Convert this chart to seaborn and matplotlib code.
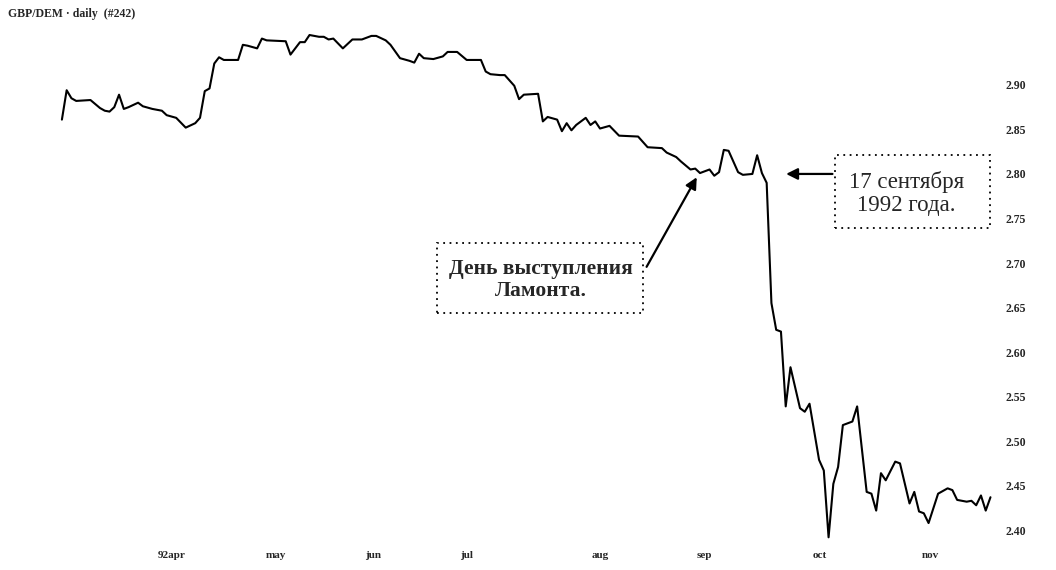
import matplotlib
matplotlib.use("Agg")
import matplotlib.pyplot as plt
from matplotlib.patches import Rectangle
import seaborn as sns
import pandas as pd

# trading day index (0 = early March 1992) and GBP/DEM close
day = [0, 1, 2, 3, 6, 8, 9, 10, 11, 12, 13, 14, 16, 17, 19, 21, 22, 24, 26, 28,
       29, 30, 31, 32, 33, 34, 37, 38, 39, 41, 42, 43, 47, 48, 50, 51, 52, 54, 55, 56,
       57, 59, 61, 63, 65, 66, 68, 69, 71, 73, 74, 75, 76, 78, 80, 81, 83, 85, 88, 89,
       90, 92, 93, 95, 96, 97, 100, 101, 102, 104, 105, 106, 107, 108, 110, 111, 112, 113, 115, 117,
       121, 123, 126, 127, 129, 130, 132, 133, 134, 136, 137, 138, 139, 140, 142, 143, 145, 146, 147, 148,
       149, 150, 151, 152, 153, 155, 156, 157, 159, 160, 161, 162, 163, 164, 166, 167, 169, 170, 171, 172,
       173, 175, 176, 178, 179, 180, 181, 182, 184, 186, 187, 188, 190, 191, 192, 193, 194, 195]
rate = [2.861, 2.894, 2.885, 2.882, 2.883, 2.874, 2.871, 2.870, 2.875, 2.889, 2.873, 2.875, 2.880, 2.876, 2.873, 2.871, 2.866, 2.863, 2.852, 2.857,
        2.863, 2.893, 2.896, 2.924, 2.931, 2.928, 2.928, 2.945, 2.944, 2.941, 2.952, 2.950, 2.949, 2.934, 2.948, 2.948, 2.956, 2.954, 2.954, 2.951,
        2.952, 2.941, 2.951, 2.951, 2.955, 2.955, 2.950, 2.945, 2.930, 2.927, 2.925, 2.935, 2.930, 2.929, 2.932, 2.937, 2.937, 2.928, 2.928, 2.915,
        2.912, 2.911, 2.911, 2.899, 2.884, 2.889, 2.890, 2.859, 2.864, 2.861, 2.848, 2.857, 2.849, 2.855, 2.863, 2.855, 2.859, 2.851, 2.854, 2.843,
        2.842, 2.830, 2.829, 2.824, 2.819, 2.814, 2.805, 2.806, 2.801, 2.805, 2.798, 2.802, 2.827, 2.826, 2.802, 2.799, 2.800, 2.821, 2.801, 2.790,
        2.655, 2.625, 2.623, 2.539, 2.583, 2.537, 2.533, 2.542, 2.479, 2.467, 2.392, 2.452, 2.471, 2.518, 2.522, 2.539, 2.443, 2.441, 2.422, 2.464,
        2.456, 2.477, 2.475, 2.430, 2.443, 2.421, 2.419, 2.408, 2.441, 2.447, 2.445, 2.434, 2.432, 2.433, 2.428, 2.439, 2.422, 2.437]

month_labels = ["92apr", "may", "jun", "jul", "aug", "sep", "oct", "nov"]
month_days = [23, 45, 65.3, 85, 113, 135, 159.2, 182.4]
y_ticks = [2.40, 2.45, 2.50, 2.55, 2.60, 2.65, 2.70, 2.75, 2.80, 2.85, 2.90]

df = pd.DataFrame({"day": day, "rate": rate})

sns.set_style("white")
serif = ["Liberation Serif", "DejaVu Serif"]

fig = plt.figure(figsize=(10.56, 5.70), dpi=100)
ax = fig.add_axes([50 / 1056, 1 - 548 / 570, 950 / 1056, 521 / 570])

sns.lineplot(data=df, x="day", y="rate", color="black", lw=1.5, ax=ax)

ax.set_xlim(-2.5, 197)
ax.set_ylim(2.38, 2.965)
for s in ax.spines.values():
    s.set_visible(False)

ax.yaxis.tick_right()
ax.set_yticks(y_ticks)
ax.set_yticklabels([f"{v:.2f}" for v in y_ticks], fontsize=8.5, family=serif, weight="bold")
ax.set_xticks(month_days)
ax.set_xticklabels(month_labels, fontsize=8, family=serif, weight="bold")
ax.tick_params(axis="y", length=0, pad=4)
ax.tick_params(axis="x", length=0, pad=2)
ax.set_xlabel("")
ax.set_ylabel("")

fig.text(8 / 1056, 1 - 14 / 570, "GBP/DEM · daily  (#242)", fontsize=8.5, family=serif,
         weight="bold", va="center", ha="left")

dots = dict(fill=False, ec="black", ls=(0, (1, 2.5)), lw=1.3)

# Lamont's speech
ax.add_patch(Rectangle((78.8, 2.6438), 43.2, 0.0787, **dots))
ax.annotate("", xy=(133.6, 2.799), xytext=(122.5, 2.693),
            arrowprops=dict(arrowstyle="-|>", color="black", lw=1.6, mutation_scale=17))
ax.text(100.6, 2.681, "День выступления\nЛамонта.", fontsize=15.5, family=serif, weight="bold",
        ha="center", va="center", linespacing=1.15)

# 17 September 1992
ax.add_patch(Rectangle((162.4, 2.739), 32.6, 0.082, **dots))
ax.annotate("", xy=(151.5, 2.800), xytext=(162.4, 2.800),
            arrowprops=dict(arrowstyle="-|>", color="black", lw=1.6, mutation_scale=17))
ax.text(177.3, 2.778, "17 сентября\n1992 года.", fontsize=16.5, family=serif,
        ha="center", va="center", linespacing=1.15)

fig.savefig("out.png", dpi=100)
